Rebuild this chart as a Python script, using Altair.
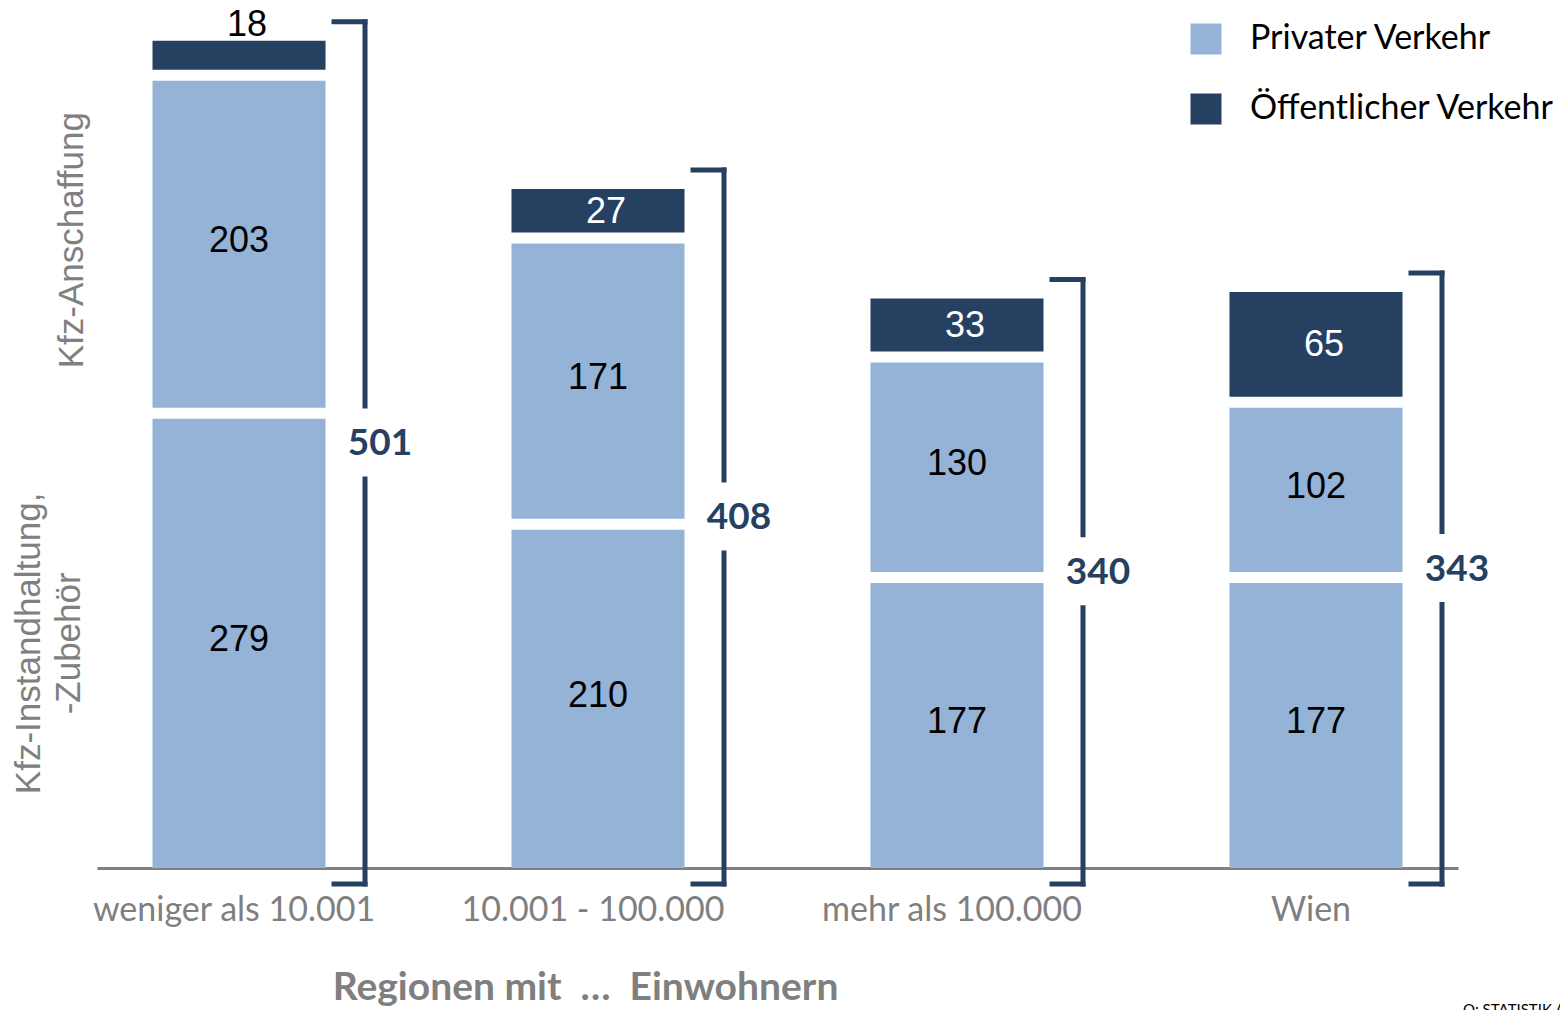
import altair as alt
import pandas as pd

# ---------------- data ----------------
regions = ["weniger als 10.001", "10.001 - 100.000", "mehr als 100.000", "Wien"]
instandhaltung = [279, 210, 177, 177]   # Kfz-Instandhaltung, -Zubehör (privat)
anschaffung = [203, 171, 130, 102]      # Kfz-Anschaffung (privat)
oeffentlich = [18, 27, 33, 65]          # Öffentlicher Verkehr
totals = [501, 408, 340, 343]
series_names = ["Privater Verkehr", "Öffentlicher Verkehr"]
ytitle_lower = "Kfz-Instandhaltung,\n-Zubehör"
ytitle_upper = "Kfz-Anschaffung"
x_title = "Regionen mit\u00a0\u00a0…\u00a0\u00a0Einwohnern"
source = "Q: STATISTIK AUSTRIA"

LIGHT = "#95b3d7"
DARK = "#254061"
GRAY = "#7f7f7f"

rows = []
for i, r in enumerate(regions):
    a, b, c = instandhaltung[i], anschaffung[i], oeffentlich[i]
    rows.append(dict(region=r, seg=1, serie=series_names[0], start=0, end=a, value=a))
    rows.append(dict(region=r, seg=2, serie=series_names[0], start=a, end=a + b, value=b))
    rows.append(dict(region=r, seg=3, serie=series_names[1], start=a + b, end=a + b + c, value=c))
seg_df = pd.DataFrame(rows)
seg_df["mid"] = (seg_df["start"] + seg_df["end"]) / 2

stack = [instandhaltung[i] + anschaffung[i] + oeffentlich[i] for i in range(len(regions))]
tot_df = pd.DataFrame(dict(region=regions, total=totals, stack=stack,
                           half=[s / 2 for s in stack]))

yt_df = pd.DataFrame([
    dict(region=regions[0], label=ytitle_lower, pos=instandhaltung[0] / 2),
    dict(region=regions[0], label=ytitle_upper,
         pos=instandhaltung[0] + anschaffung[0] / 2),
])

# ---------------- encodings ----------------
X_ENC = alt.X(
    "region:N", sort=regions,
    scale=alt.Scale(domain=regions, paddingInner=0.518, paddingOuter=0.1546),
    axis=alt.Axis(
        title=x_title, labelAngle=0, ticks=False,
        domainColor="#808080", domainWidth=3,
        labelFont="Lato", labelFontSize=34, labelColor=GRAY, labelPadding=25,
        labelLimit=500, labelOffset=-5,
        titleFont="Lato", titleFontWeight="bold", titleFontSize=39, titleColor=GRAY,
        titleX=488, titleY=131, titleBaseline="alphabetic", titleAlign="center",
    ),
)
Y_SCALE = alt.Scale(domain=[0, 534], nice=False)

COLOR = alt.Color(
    "serie:N",
    scale=alt.Scale(domain=series_names, range=[LIGHT, DARK]),
    legend=alt.Legend(
        title=None, orient="none", legendX=1092, legendY=14,
        symbolType="square", symbolSize=961, symbolStrokeWidth=0,
        labelFont="Lato", labelFontSize=34, labelColor="black",
        labelOffset=27, rowPadding=36, padding=0, labelLimit=400,
    ),
)

GAP = 11
layers = []

# bars (three segments separated by white gaps)
for k in (1, 2, 3):
    off = -GAP * (k - 1)
    layers.append(
        alt.Chart(seg_df).transform_filter(alt.datum.seg == k)
        .mark_bar(yOffset=off, y2Offset=off)
        .encode(x=X_ENC,
                y=alt.Y("end:Q", scale=Y_SCALE, axis=None),
                y2="start:Q",
                color=COLOR)
    )

# segment labels (private: black in bar)
for k in (1, 2):
    off = -GAP * (k - 1)
    layers.append(
        alt.Chart(seg_df).transform_filter(alt.datum.seg == k)
        .mark_text(font="Liberation Sans", fontSize=36, color="black",
                   baseline="middle", dy=off - 3)
        .encode(x=X_ENC, y=alt.Y("mid:Q", scale=Y_SCALE, axis=None),
                text="value:Q")
    )
# public: white in bar, or black above when the bar is too thin
layers.append(
    alt.Chart(seg_df).transform_filter((alt.datum.seg == 3) & (alt.datum.value >= 20))
    .mark_text(font="Liberation Sans", fontSize=36, color="white",
               baseline="middle", dy=-2 * GAP + 1, dx=8)
    .encode(x=X_ENC, y=alt.Y("mid:Q", scale=Y_SCALE, axis=None), text="value:Q")
)
layers.append(
    alt.Chart(seg_df).transform_filter((alt.datum.seg == 3) & (alt.datum.value < 20))
    .mark_text(font="Liberation Sans", fontSize=36, color="black",
               baseline="alphabetic", dy=-2 * GAP - 5, dx=8)
    .encode(x=X_ENC, y=alt.Y("end:Q", scale=Y_SCALE, axis=None), text="value:Q")
)

# brackets
BX = 126
TOP_OFF = -41
BOT_OFF = 16
layers.append(
    alt.Chart(tot_df).mark_rule(color=DARK, strokeWidth=5, strokeCap="square",
                                xOffset=BX, yOffset=TOP_OFF, y2Offset=BOT_OFF)
    .encode(x=X_ENC, y=alt.Y("stack:Q", scale=Y_SCALE, axis=None), y2=alt.datum(0))
)
layers.append(
    alt.Chart(tot_df).mark_rule(color=DARK, strokeWidth=5, strokeCap="square",
                                xOffset=95, x2Offset=BX, yOffset=TOP_OFF)
    .encode(x=X_ENC, x2="region:N", y=alt.Y("stack:Q", scale=Y_SCALE, axis=None))
)
layers.append(
    alt.Chart(tot_df).mark_rule(color=DARK, strokeWidth=5, strokeCap="square",
                                xOffset=95, x2Offset=BX, yOffset=BOT_OFF)
    .encode(x=X_ENC, x2="region:N", y=alt.Y(datum=0, scale=Y_SCALE, axis=None))
)
# white gap behind total label
layers.append(
    alt.Chart(tot_df).mark_rule(color="white", strokeWidth=14, strokeCap="butt",
                                xOffset=BX, yOffset=-21 - 36, y2Offset=-21 + 32)
    .encode(x=X_ENC, y=alt.Y("half:Q", scale=Y_SCALE, axis=None), y2="half:Q")
)
layers.append(
    alt.Chart(tot_df).mark_text(font="Lato", fontWeight="bold", fontSize=37,
                                color=DARK, baseline="middle", dx=141, dy=-21)
    .encode(x=X_ENC, y=alt.Y("half:Q", scale=Y_SCALE, axis=None), text="total:Q")
)

# category titles on the left (rotated)
layers.append(
    alt.Chart(yt_df).transform_filter(alt.datum.label == ytitle_lower)
    .mark_text(font="Liberation Sans", fontSize=35, color="#808080", angle=270,
               align="center", baseline="middle", lineBreak="\n", lineHeight=40,
               xOffset=-210)
    .encode(x=X_ENC, y=alt.Y("pos:Q", scale=Y_SCALE, axis=None), text="label:N")
)
layers.append(
    alt.Chart(yt_df).transform_filter(alt.datum.label == ytitle_upper)
    .mark_text(font="Liberation Sans", fontSize=35, color="#808080", angle=270,
               align="center", baseline="middle", xOffset=-167, yOffset=-15)
    .encode(x=X_ENC, y=alt.Y("pos:Q", scale=Y_SCALE, axis=None), text="label:N")
)

chart = alt.layer(*layers).properties(
    width=1361, height=860,
    autosize=alt.AutoSizeParams(type="none"),
    padding={"left": 89, "top": 0, "right": 102, "bottom": 142},
    title=alt.TitleParams(source, orient="bottom", anchor="end", align="left",
                          frame="group", dx=5, dy=-4, font="Lato", fontSize=15,
                          color="black", fontWeight="normal", offset=0),
).configure_view(stroke=None)

chart.save("out.html", embed_options={"renderer": "svg", "actions": False})
